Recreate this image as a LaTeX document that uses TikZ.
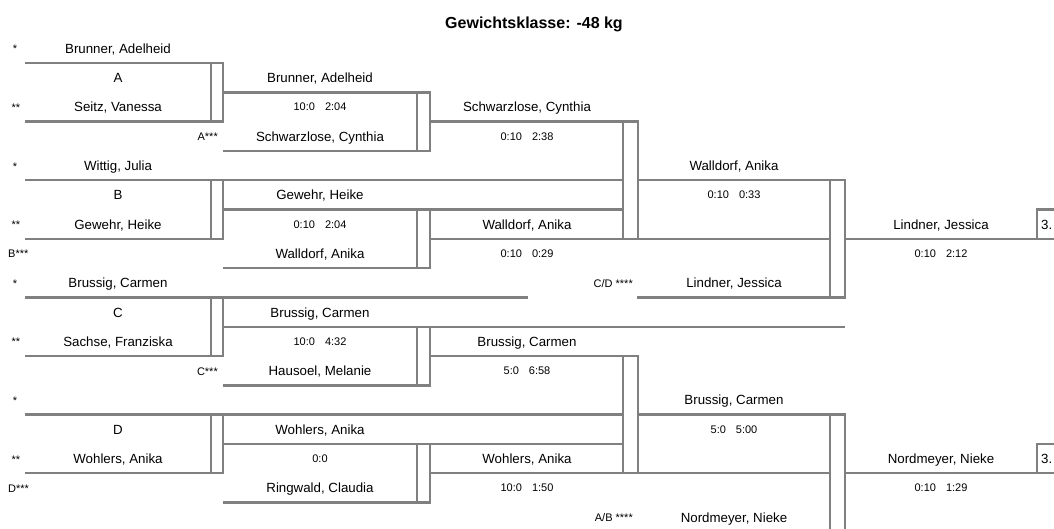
\documentclass[tikz,border=0pt]{standalone}
\usepackage{fontspec}
\setmainfont{Liberation Sans}
\begin{document}
\begin{tikzpicture}[x=1pt,y=-1pt]
\tikzset{
  ln/.style={draw=black!50, line width=2.4pt},
  nm/.style={font=\fontsize{13.3}{15}\selectfont, text=black, inner sep=0pt, anchor=base, yshift=-5pt},
  sc/.style={font=\fontsize{11}{13}\selectfont, text=black, inner sep=0pt, anchor=base, yshift=-4pt},
  sm/.style={font=\fontsize{11}{13}\selectfont, text=black, inner sep=0pt, anchor=base, yshift=-4.5pt},
  ttl/.style={font=\fontsize{16}{18}\selectfont\bfseries, text=black, inner sep=0pt}
}
\useasboundingbox (0,0) rectangle (1054,528);
\clip (0,0) rectangle (1054,528);
\node[ttl] (title) at (534,24) {Gewichtsklasse: -48 kg};
\begin{scope}[yshift=-63pt, y=-29.3pt]
% ---------- column 1 ----------
\draw[ln] (25,0) -| (223,2) -- (25,2);  \draw[ln] (211,0) -- (211,2);
\draw[ln] (25,4) -- (623,4); \draw[ln] (223,4) |- (25,6);  \draw[ln] (211,4) -- (211,6);
\draw[ln] (25,8) -- (528,8); \draw[ln] (223,8) |- (25,10); \draw[ln] (211,8) -- (211,10);
\draw[ln] (25,12) -- (623,12); \draw[ln] (223,12) |- (25,14); \draw[ln] (211,12) -- (211,14);
% ---------- column 2 ----------
\draw[ln] (223,1) -| (430,3) -- (223,3); \draw[ln] (417,1) -- (417,3);
\draw[ln] (223,5) -- (623,5); \draw[ln] (430,5) |- (223,7); \draw[ln] (417,5) -- (417,7);
\draw[ln] (223,9) -- (845,9); \draw[ln] (430,9) |- (223,11); \draw[ln] (417,9) -- (417,11);
\draw[ln] (223,13) -- (623,13); \draw[ln] (430,13) |- (223,15); \draw[ln] (417,13) -- (417,15);
% ---------- column 3 ----------
\draw[ln] (430,2) -| (638,6); \draw[ln] (430,6) -- (830,6); \draw[ln] (623,2) -- (623,6);
\draw[ln] (430,10) -| (638,14); \draw[ln] (430,14) -- (830,14); \draw[ln] (623,10) -- (623,14);
% ---------- column 4 ----------
\draw[ln] (638,4) -| (845,8) -- (637,8); \draw[ln] (830,4) -- (830,8);
\draw[ln] (638,12) -| (845,16) -- (637,16); \draw[ln] (830,12) -- (830,16);
% ---------- column 5 ----------
\draw[ln] (845,6) -- (1060,6); \draw[ln] (1037,6) |- (1060,5);
\draw[ln] (845,14) -- (1060,14); \draw[ln] (1037,14) |- (1060,13);
% ---------- texts column 1 ----------
\node[sm] (s0) at (15,-0.5) {*};
\node[nm] (n0) at (118,-0.5) {Brunner, Adelheid};
\node[nm] (la) at (118,0.5) {A};
\node[sm] (s1) at (16,1.5) {**};
\node[nm] (n1) at (118,1.5) {Seitz, Vanessa};
\node[sm,anchor=base east] (aa) at (218,2.5) {A***};
\node[sm] (s2) at (15,3.5) {*};
\node[nm] (n2) at (118,3.5) {Wittig, Julia};
\node[nm] (lb) at (118,4.5) {B};
\node[sm] (s3) at (16,5.5) {**};
\node[nm] (n3) at (118,5.5) {Gewehr, Heike};
\node[sm,anchor=base west] (bb) at (8,6.5) {B***};
\node[sm] (s4) at (15,7.5) {*};
\node[nm] (n4) at (118,7.5) {Brussig, Carmen};
\node[nm] (lc) at (118,8.5) {C};
\node[sm] (s5) at (16,9.5) {**};
\node[nm] (n5) at (118,9.5) {Sachse, Franziska};
\node[sm,anchor=base east] (cc) at (218,10.5) {C***};
\node[sm] (s6) at (15,11.5) {*};
\node[nm] (ld) at (118,12.5) {D};
\node[sm] (s7) at (16,13.5) {**};
\node[nm] (n7) at (118,13.5) {Wohlers, Anika};
\node[sm,anchor=base west] (dd) at (8,14.5) {D***};
% ---------- texts column 2 ----------
\node[nm] (m0) at (320,0.5) {Brunner, Adelheid};
\node[sc] (r0) at (320,1.5) {10:0\hspace{10pt}2:04};
\node[nm] (m1) at (320,2.5) {Schwarzlose, Cynthia};
\node[nm] (m2) at (320,4.5) {Gewehr, Heike};
\node[sc] (r1) at (320,5.5) {0:10\hspace{10pt}2:04};
\node[nm] (m3) at (320,6.5) {Walldorf, Anika};
\node[nm] (m4) at (320,8.5) {Brussig, Carmen};
\node[sc] (r2) at (320,9.5) {10:0\hspace{10pt}4:32};
\node[nm] (m5) at (320,10.5) {Hausoel, Melanie};
\node[nm] (m6) at (320,12.5) {Wohlers, Anika};
\node[sc] (r3) at (320,13.5) {0:0};
\node[nm] (m7) at (320,14.5) {Ringwald, Claudia};
% ---------- texts column 3 ----------
\node[nm] (q0) at (527,1.5) {Schwarzlose, Cynthia};
\node[sc] (p0) at (527,2.5) {0:10\hspace{10pt}2:38};
\node[nm] (q1) at (527,5.5) {Walldorf, Anika};
\node[sc] (p1) at (527,6.5) {0:10\hspace{10pt}0:29};
\node[sm,anchor=base east] (cd) at (633,7.5) {C/D ****};
\node[nm] (q2) at (527,9.5) {Brussig, Carmen};
\node[sc] (p2) at (527,10.5) {5:0\hspace{10pt}6:58};
\node[nm] (q3) at (527,13.5) {Wohlers, Anika};
\node[sc] (p3) at (527,14.5) {10:0\hspace{10pt}1:50};
\node[sm,anchor=base east] (ab) at (633,15.5) {A/B ****};
% ---------- texts column 4 ----------
\node[nm] (u0) at (734,3.5) {Walldorf, Anika};
\node[sc] (v0) at (734,4.5) {0:10\hspace{10pt}0:33};
\node[nm] (u1) at (734,7.5) {Lindner, Jessica};
\node[nm] (u2) at (734,11.5) {Brussig, Carmen};
\node[sc] (v2) at (734,12.5) {5:0\hspace{10pt}5:00};
\node[nm] (u3) at (734,15.5) {Nordmeyer, Nieke};
% ---------- texts column 5 ----------
\node[nm] (w0) at (941,5.5) {Lindner, Jessica};
\node[sc] (x0) at (941,6.5) {0:10\hspace{10pt}2:12};
\node[nm,anchor=base west] (b0) at (1041,5.5) {3.};
\node[nm] (w1) at (941,13.5) {Nordmeyer, Nieke};
\node[sc] (x1) at (941,14.5) {0:10\hspace{10pt}1:29};
\node[nm,anchor=base west] (b1) at (1041,13.5) {3.};
\end{scope}
\end{tikzpicture}
\end{document}
